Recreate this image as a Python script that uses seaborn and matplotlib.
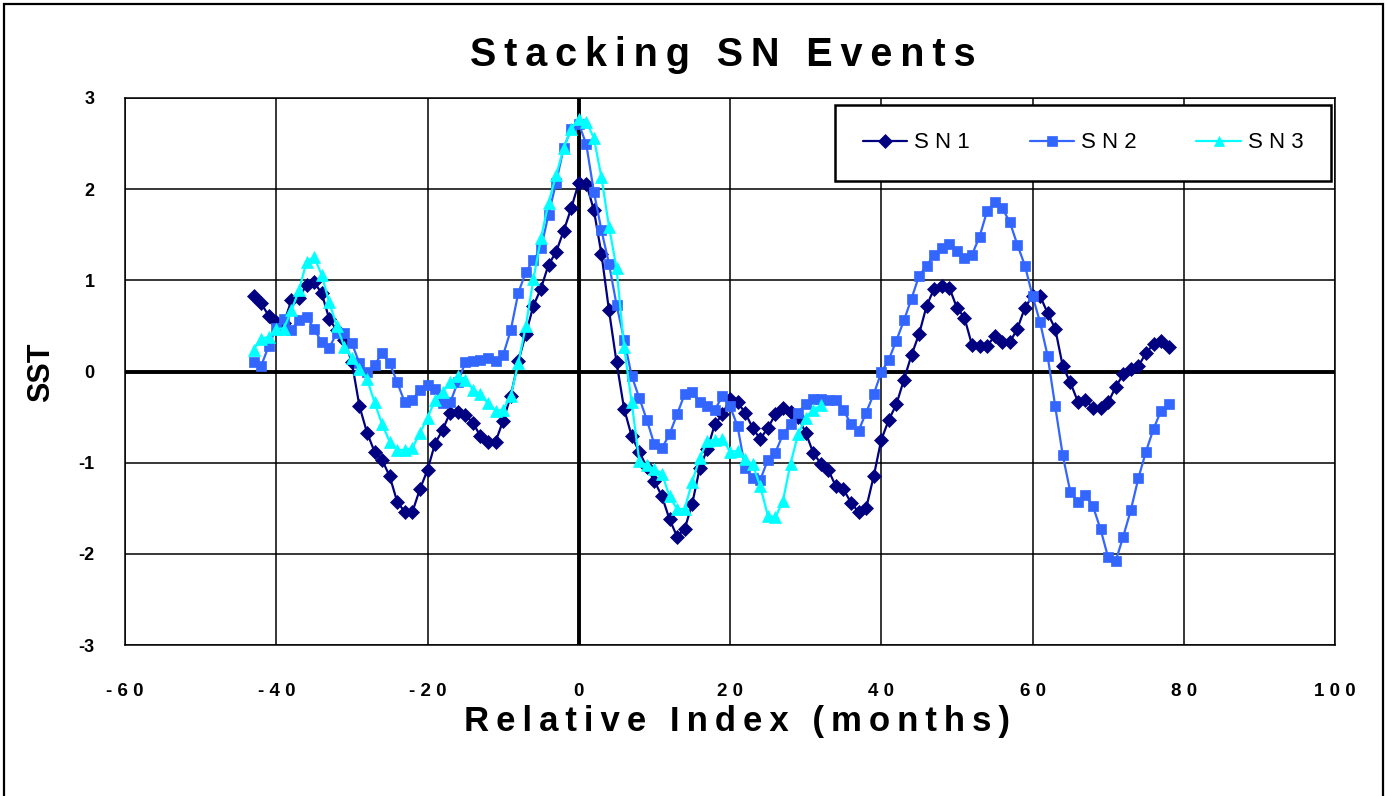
import matplotlib
matplotlib.use("Agg")
import matplotlib.pyplot as plt
import seaborn as sns
import pandas as pd
from matplotlib.patches import Rectangle

# ---------------- data ----------------
months_sn1 = list(range(-43, 79))
sn1 = [0.83, 0.75, 0.61, 0.54, 0.53, 0.78, 0.81, 0.95, 0.98, 0.86,
       0.58, 0.45, 0.35, 0.10, -0.38, -0.67, -0.88, -0.97, -1.15, -1.43,
       -1.54, -1.54, -1.29, -1.08, -0.79, -0.64, -0.45, -0.44, -0.48, -0.56,
       -0.71, -0.77, -0.77, -0.54, -0.27, 0.11, 0.41, 0.72, 0.91, 1.17,
       1.31, 1.54, 1.79, 2.07, 2.06, 1.77, 1.29, 0.67, 0.10, -0.41,
       -0.71, -0.88, -1.05, -1.20, -1.37, -1.62, -1.81, -1.73, -1.45, -1.06,
       -0.85, -0.58, -0.47, -0.30, -0.34, -0.45, -0.62, -0.74, -0.62, -0.47,
       -0.40, -0.44, -0.50, -0.67, -0.89, -1.01, -1.08, -1.26, -1.29, -1.44,
       -1.54, -1.50, -1.15, -0.75, -0.53, -0.36, -0.09, 0.18, 0.41, 0.72,
       0.91, 0.94, 0.92, 0.70, 0.59, 0.29, 0.28, 0.28, 0.39, 0.32,
       0.32, 0.47, 0.70, 0.83, 0.83, 0.64, 0.47, 0.06, -0.12, -0.33,
       -0.31, -0.40, -0.40, -0.34, -0.17, -0.03, 0.03, 0.06, 0.20, 0.30,
       0.34, 0.27]

months_sn2 = list(range(-43, 79))
sn2 = [0.10, 0.06, 0.28, 0.48, 0.58, 0.46, 0.57, 0.60, 0.47, 0.32,
       0.26, 0.42, 0.42, 0.31, 0.09, -0.01, 0.07, 0.20, 0.09, -0.12,
       -0.34, -0.31, -0.20, -0.15, -0.19, -0.35, -0.34, -0.12, 0.10, 0.12,
       0.13, 0.15, 0.12, 0.18, 0.45, 0.86, 1.09, 1.22, 1.35, 1.72,
       2.07, 2.45, 2.66, 2.72, 2.49, 1.97, 1.55, 1.18, 0.73, 0.35,
       -0.05, -0.29, -0.53, -0.80, -0.84, -0.69, -0.47, -0.25, -0.23, -0.34,
       -0.38, -0.42, -0.27, -0.38, -0.60, -1.06, -1.17, -1.19, -0.97, -0.89,
       -0.69, -0.58, -0.45, -0.36, -0.30, -0.30, -0.31, -0.31, -0.42, -0.58,
       -0.65, -0.45, -0.25, -0.01, 0.13, 0.34, 0.56, 0.80, 1.05, 1.16,
       1.28, 1.36, 1.40, 1.32, 1.24, 1.28, 1.48, 1.76, 1.86, 1.79,
       1.64, 1.39, 1.16, 0.83, 0.54, 0.17, -0.38, -0.92, -1.32, -1.43,
       -1.35, -1.48, -1.73, -2.04, -2.08, -1.81, -1.52, -1.17, -0.88, -0.63,
       -0.43, -0.36]

months_sn3 = list(range(-43, 33))
sn3 = [0.24, 0.36, 0.38, 0.47, 0.47, 0.67, 0.89, 1.20, 1.26, 1.06,
       0.76, 0.50, 0.27, 0.15, 0.03, -0.08, -0.34, -0.58, -0.77, -0.86,
       -0.86, -0.84, -0.67, -0.51, -0.31, -0.22, -0.12, -0.05, -0.09, -0.20,
       -0.25, -0.35, -0.43, -0.42, -0.27, 0.09, 0.50, 1.01, 1.46, 1.85,
       2.15, 2.45, 2.66, 2.77, 2.74, 2.56, 2.13, 1.59, 1.13, 0.27,
       -0.34, -0.98, -1.03, -1.07, -1.12, -1.37, -1.51, -1.51, -1.21, -0.95,
       -0.76, -0.75, -0.74, -0.88, -0.87, -0.96, -1.02, -1.26, -1.58, -1.60,
       -1.42, -1.01, -0.69, -0.51, -0.42, -0.37]

series_names = ["SN1", "SN2", "SN3"]
x_ticks = [-60, -40, -20, 0, 20, 40, 60, 80, 100]
y_ticks = [-3, -2, -1, 0, 1, 2, 3]
title_text = "Stacking SN Events"
xlabel_text = "Relative Index (months)"
ylabel_text = "SST"

# ---------------- style ----------------
sns.set_style("white")
plt.rcParams["font.family"] = ["Liberation Sans", "DejaVu Sans"]
plt.rcParams["text.color"] = "black"
plt.rcParams["xtick.color"] = "black"
plt.rcParams["ytick.color"] = "black"
plt.rcParams["axes.labelcolor"] = "black"

def spaced(s, sep=" "):
    return sep.join(list(s))

W, H = 1387, 796
fig = plt.figure(figsize=(W / 100, H / 100), dpi=100)
ax = fig.add_axes([125 / W, 1 - 645 / H, (1335 - 125) / W, (645 - 98) / H])

colors = ["#000080", "#3366FF", "#00FFFF"]
markers = ["D", "s", "^"]
msizes = [7, 7.5, 8.5]
datasets = [(months_sn1, sn1), (months_sn2, sn2), (months_sn3, sn3)]

for name, (xs, ys), c, m, ms in zip(series_names, datasets, colors, markers, msizes):
    df = pd.DataFrame({"month": xs, "sst": ys})
    sns.lineplot(data=df, x="month", y="sst", ax=ax, color=c, marker=m,
                 markersize=ms, markeredgecolor=c, markeredgewidth=0.5,
                 linewidth=1.6, label=spaced(name), zorder=3)

ax.set_xlim(-60, 100)
ax.set_ylim(-3, 3)
ax.set_xticks(x_ticks)
ax.set_yticks(y_ticks)
ax.set_xticklabels([spaced(str(v)) for v in x_ticks], fontsize=13.5,
                   fontweight="bold")
ax.set_yticklabels([str(v) for v in y_ticks], fontsize=13, fontweight="bold")
ax.tick_params(axis="x", length=0, pad=27)
ax.tick_params(axis="y", length=0, pad=22)
ax.set_xlabel("")
ax.set_ylabel("")

ax.grid(True, color="black", linewidth=1.1)
ax.set_axisbelow(True)
for sp in ax.spines.values():
    sp.set_color("black")
    sp.set_linewidth(1.1)
ax.axhline(0, color="black", linewidth=2.8, zorder=2)
ax.axvline(0, color="black", linewidth=2.8, zorder=2)

leg = ax.legend(loc="center", bbox_to_anchor=((836 + 1330) / 2 / W, 1 - 143 / H),
                bbox_transform=fig.transFigure, ncol=3, frameon=True,
                fancybox=False, shadow=False, framealpha=1,
                edgecolor="black", fontsize=16, handlelength=2.0,
                handletextpad=0.3, columnspacing=2.7, borderpad=1.25)
leg.get_frame().set_linewidth(1.8)
for h in leg.legend_handles:
    h.set_markersize(7)

fig.text(723 / W, 1 - 55 / H, spaced(title_text, "\u2009"), ha="center",
         va="center", fontsize=28.5, fontweight="bold")
fig.text(737 / W, 1 - 722 / H, spaced(xlabel_text, "\u2009"), ha="center",
         va="center", fontsize=25, fontweight="bold")
fig.text(41 / W, 1 - 372 / H, ylabel_text, ha="center", va="center",
         rotation=90, fontsize=22, fontweight="bold")

fig.add_artist(Rectangle((4 / W, -0.02), (1383 - 4) / W, 1.02 - 4 / H,
                         transform=fig.transFigure, fill=False,
                         edgecolor="black", linewidth=1.6))

fig.savefig("out.png", dpi=100)
